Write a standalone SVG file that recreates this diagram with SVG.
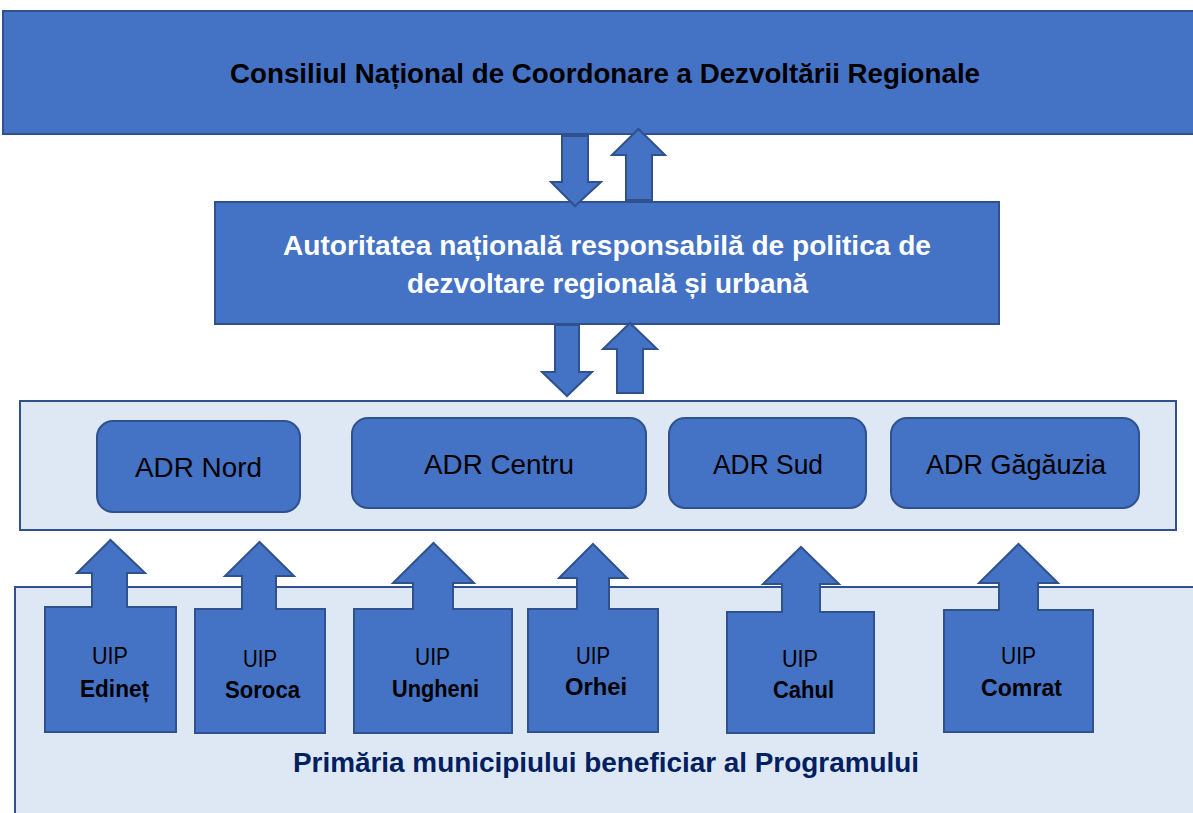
<svg xmlns="http://www.w3.org/2000/svg" width="1193" height="813" viewBox="0 0 1193 813">
<style>
.blue{fill:#4472C4;stroke:#2F528F;stroke-width:2}
.light{fill:#DEE8F5;stroke:#2F528F;stroke-width:2}
.t{font-family:"Liberation Sans",Arial,sans-serif;text-anchor:middle}
.b{font-weight:bold}
.k{fill:#000}
.w{fill:#fff}
</style>
<rect width="1193" height="813" fill="#fff"/>
<g id="primaria">
<rect class="light" x="15" y="587" width="1190" height="240"/>
<text class="t b" x="606" y="772" font-size="27" fill="#002060" textLength="626" lengthAdjust="spacingAndGlyphs">Primăria municipiului beneficiar al Programului</text>
</g>
<g id="consiliul">
<rect class="blue" x="3" y="11" width="1200" height="123"/>
<text class="t b k" x="605" y="83" font-size="27" textLength="750" lengthAdjust="spacingAndGlyphs">Consiliul Național de Coordonare a Dezvoltării Regionale</text>
</g>
<g id="autoritatea">
<rect class="blue" x="215" y="202" width="784" height="122"/>
<text class="t b w" x="607" y="255" font-size="27" textLength="648" lengthAdjust="spacingAndGlyphs">Autoritatea națională responsabilă de politica de</text>
<text class="t b w" x="607.5" y="293" font-size="27" textLength="401" lengthAdjust="spacingAndGlyphs">dezvoltare regională și urbană</text>
</g>
<g id="adr">
<rect class="light" x="20" y="401" width="1156" height="129"/>
</g>
<g id="adr-nord">
<rect class="blue" x="97" y="421" width="203" height="91" rx="16"/>
<text class="t k" x="198.5" y="477" font-size="28" textLength="127" lengthAdjust="spacingAndGlyphs">ADR Nord</text>
</g>
<g id="adr-centru">
<rect class="blue" x="352" y="418" width="294" height="90" rx="16"/>
<text class="t k" x="499" y="474" font-size="28" textLength="150" lengthAdjust="spacingAndGlyphs">ADR Centru</text>
</g>
<g id="adr-sud">
<rect class="blue" x="669" y="418" width="197" height="90" rx="16"/>
<text class="t k" x="768" y="474" font-size="28" textLength="110" lengthAdjust="spacingAndGlyphs">ADR Sud</text>
</g>
<g id="adr-gagauzia">
<rect class="blue" x="891" y="418" width="248" height="90" rx="16"/>
<text class="t k" x="1016" y="474" font-size="28" textLength="180" lengthAdjust="spacingAndGlyphs">ADR Găgăuzia</text>
</g>
<g id="uip-edinet">
<path class="blue" d="M45,607 H92 V573 H77 L110.5,540 L145,573 H127 V607 H176 V732 H45 Z"/>
<text class="t k" x="110" y="664" font-size="24" textLength="36" lengthAdjust="spacingAndGlyphs">UIP</text>
<text class="t b k" x="114.5" y="697" font-size="23" textLength="69" lengthAdjust="spacingAndGlyphs">Edineț</text>
</g>
<g id="uip-soroca">
<path class="blue" d="M195,609 H242 V576 H225 L259.5,542 L294,576 H276 V609 H325 V733 H195 Z"/>
<text class="t k" x="260" y="667" font-size="24" textLength="34" lengthAdjust="spacingAndGlyphs">UIP</text>
<text class="t b k" x="262.5" y="698" font-size="23" textLength="75" lengthAdjust="spacingAndGlyphs">Soroca</text>
</g>
<g id="uip-ungheni">
<path class="blue" d="M354,609 H413 V583 H393 L433.5,543 L474,583 H453 V609 H512 V733 H354 Z"/>
<text class="t k" x="432.5" y="665" font-size="24" textLength="35" lengthAdjust="spacingAndGlyphs">UIP</text>
<text class="t b k" x="435.5" y="697" font-size="23" textLength="87" lengthAdjust="spacingAndGlyphs">Ungheni</text>
</g>
<g id="uip-orhei">
<path class="blue" d="M528,609 H577 V578 H559 L593,544 L627,578 H609 V609 H658 V732 H528 Z"/>
<text class="t k" x="593" y="664" font-size="24" textLength="34" lengthAdjust="spacingAndGlyphs">UIP</text>
<text class="t b k" x="596" y="695" font-size="23" textLength="62" lengthAdjust="spacingAndGlyphs">Orhei</text>
</g>
<g id="uip-cahul">
<path class="blue" d="M727,612 H782 V584 H763 L801,547 L839,584 H820 V612 H874 V733 H727 Z"/>
<text class="t k" x="800" y="667" font-size="24" textLength="36" lengthAdjust="spacingAndGlyphs">UIP</text>
<text class="t b k" x="803.5" y="698" font-size="23" textLength="61" lengthAdjust="spacingAndGlyphs">Cahul</text>
</g>
<g id="uip-comrat">
<path class="blue" d="M944,610 H999 V583 H979 L1018.5,544 L1058,583 H1038 V610 H1093 V732 H944 Z"/>
<text class="t k" x="1018.5" y="664" font-size="24" textLength="35" lengthAdjust="spacingAndGlyphs">UIP</text>
<text class="t b k" x="1021.5" y="696" font-size="23" textLength="81" lengthAdjust="spacingAndGlyphs">Comrat</text>
</g>
<g id="connectors">
<path class="blue" d="M562,136 H588 V182 H601 L575,206 L551,182 H562 Z"/>
<path class="blue" d="M626,200 H652 V155 H665 L638.5,129 L612,155 H626 Z"/>
<path class="blue" d="M555,325 H579 V372 H592 L567,396 L542,372 H555 Z"/>
<path class="blue" d="M617,393 H643 V349 H657 L630,323 L603,349 H617 Z"/>
</g>
</svg>
